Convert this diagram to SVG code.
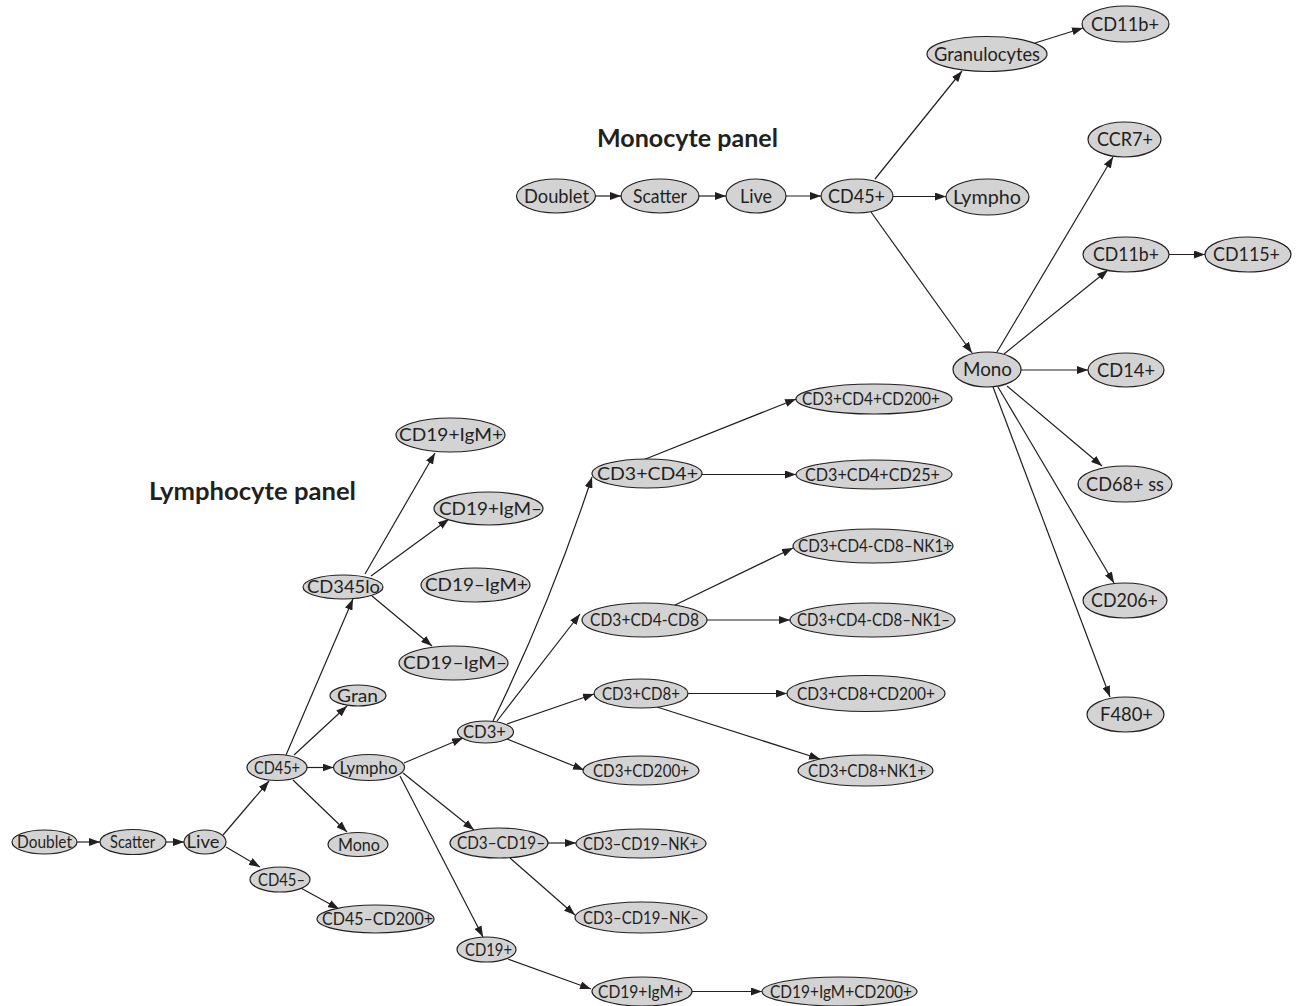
<svg xmlns="http://www.w3.org/2000/svg" width="1296" height="1006" viewBox="0 0 1296 1006">
<style>
  .bg { fill: #ffffff; }
  ellipse { fill: #d3d3d4; stroke: #231f20; stroke-width: 1.2; }
  text { font-family: Lato, "Liberation Sans", sans-serif; fill: #231f20; text-anchor: middle; }
  .m text { font-size: 19px; }
  .l text { font-size: 16.5px; }
  .title { font-size: 24px; font-weight: bold; }
  #connectors line, #connectors path { stroke: #231f20; stroke-width: 1.2; fill: none; marker-end: url(#ah); }
</style>
<defs>
  <marker id="ah" markerWidth="11" markerHeight="8" refX="11" refY="4" orient="auto" markerUnits="userSpaceOnUse">
    <path d="M0,0 L11,4 L0,8 z" fill="#231f20"/>
  </marker>
</defs>
<rect class="bg" x="0" y="0" width="1296" height="1006"/>

<text class="title" x="687.5" y="147" textLength="181" lengthAdjust="spacingAndGlyphs">Monocyte panel</text>
<text class="title" x="252.5" y="500" textLength="207" lengthAdjust="spacingAndGlyphs">Lymphocyte panel</text>

<g id="connectors">
  <!-- monocyte panel -->
  <line x1="595.5" y1="196" x2="621" y2="196"/>
  <line x1="699" y1="196" x2="726" y2="196"/>
  <line x1="786" y1="196" x2="821" y2="196"/>
  <line x1="875" y1="179" x2="962" y2="71"/>
  <line x1="893" y1="196.5" x2="946" y2="196.5"/>
  <line x1="871" y1="212" x2="972" y2="353"/>
  <line x1="1035" y1="43" x2="1083" y2="28"/>
  <line x1="997" y1="352" x2="1113" y2="157"/>
  <line x1="1004" y1="354" x2="1108" y2="270"/>
  <line x1="1169" y1="254.5" x2="1205" y2="254.5"/>
  <line x1="1021" y1="370" x2="1088" y2="370"/>
  <line x1="1007" y1="386" x2="1102" y2="466"/>
  <line x1="998" y1="387" x2="1114" y2="583"/>
  <line x1="993" y1="387" x2="1110" y2="697"/>
  <!-- lymphocyte panel -->
  <line x1="77" y1="842" x2="100" y2="842"/>
  <line x1="166" y1="842" x2="184" y2="842"/>
  <line x1="223" y1="835" x2="269" y2="781"/>
  <line x1="226" y1="847" x2="260" y2="867"/>
  <line x1="299" y1="887" x2="339" y2="909"/>
  <line x1="286" y1="755" x2="353" y2="599"/>
  <line x1="294" y1="755" x2="347" y2="706"/>
  <line x1="307" y1="767.5" x2="333.5" y2="767.5"/>
  <line x1="293" y1="780" x2="347" y2="832"/>
  <line x1="365" y1="574" x2="435" y2="453"/>
  <line x1="371" y1="576" x2="449" y2="519"/>
  <line x1="372" y1="596" x2="432" y2="646"/>
  <line x1="404" y1="763" x2="463" y2="738"/>
  <line x1="403" y1="773" x2="474" y2="830"/>
  <line x1="400" y1="776" x2="483" y2="937"/>
  <path d="M493,721 Q551.5,601 592,477"/>
  <line x1="497" y1="721" x2="580" y2="614"/>
  <line x1="507" y1="724" x2="594" y2="694"/>
  <line x1="507" y1="739" x2="584" y2="770"/>
  <line x1="643" y1="460" x2="796" y2="399"/>
  <line x1="702" y1="474.5" x2="796" y2="474.5"/>
  <line x1="673" y1="606" x2="793" y2="548"/>
  <line x1="707" y1="620" x2="790" y2="620"/>
  <line x1="688" y1="693.5" x2="787" y2="693.5"/>
  <line x1="657" y1="707" x2="820" y2="759"/>
  <line x1="548" y1="843" x2="576" y2="843"/>
  <line x1="510" y1="858" x2="575" y2="915"/>
  <line x1="508" y1="959" x2="591" y2="989"/>
  <line x1="692" y1="991.5" x2="762" y2="991.5"/>
</g>

<!-- Monocyte panel nodes -->
<g class="m">
  <g id="m-doublet"><ellipse cx="556" cy="196" rx="39.5" ry="17"/><text x="556.5" y="202.5" textLength="65" lengthAdjust="spacingAndGlyphs">Doublet</text></g>
  <g id="m-scatter"><ellipse cx="660" cy="196" rx="39" ry="17"/><text x="660" y="202.5" textLength="54" lengthAdjust="spacingAndGlyphs">Scatter</text></g>
  <g id="m-live"><ellipse cx="756" cy="196" rx="30" ry="17"/><text x="756" y="202.5" textLength="32" lengthAdjust="spacingAndGlyphs">Live</text></g>
  <g id="m-cd45p"><ellipse cx="857" cy="196" rx="36" ry="17"/><text x="856.5" y="202.5" textLength="57" lengthAdjust="spacingAndGlyphs">CD45+</text></g>
  <g id="m-granulocytes"><ellipse cx="987" cy="54" rx="60" ry="17.5"/><text x="987" y="60.5" textLength="106" lengthAdjust="spacingAndGlyphs">Granulocytes</text></g>
  <g id="m-gran-cd11b"><ellipse cx="1125.5" cy="24" rx="43.5" ry="18"/><text x="1125" y="30.5" textLength="68" lengthAdjust="spacingAndGlyphs">CD11b+</text></g>
  <g id="m-ccr7"><ellipse cx="1124.5" cy="139.5" rx="36.5" ry="17.5"/><text x="1125" y="146" textLength="56" lengthAdjust="spacingAndGlyphs">CCR7+</text></g>
  <g id="m-lympho"><ellipse cx="987.5" cy="197" rx="41.5" ry="18"/><text x="987" y="203.5" textLength="68" lengthAdjust="spacingAndGlyphs">Lympho</text></g>
  <g id="m-cd11b"><ellipse cx="1126" cy="254.5" rx="43" ry="17.5"/><text x="1126" y="261" textLength="66" lengthAdjust="spacingAndGlyphs">CD11b+</text></g>
  <g id="m-cd115"><ellipse cx="1248" cy="254.5" rx="43" ry="17.5"/><text x="1246.5" y="261" textLength="67" lengthAdjust="spacingAndGlyphs">CD115+</text></g>
  <g id="m-mono"><ellipse cx="987" cy="369.5" rx="34" ry="17.5"/><text x="987.5" y="376" textLength="49" lengthAdjust="spacingAndGlyphs">Mono</text></g>
  <g id="m-cd14"><ellipse cx="1126" cy="370" rx="38" ry="17"/><text x="1126" y="376.5" textLength="58" lengthAdjust="spacingAndGlyphs">CD14+</text></g>
  <g id="m-cd68"><ellipse cx="1125" cy="484" rx="47" ry="18"/><text x="1125" y="490.5" textLength="78" lengthAdjust="spacingAndGlyphs">CD68+ ss</text></g>
  <g id="m-cd206"><ellipse cx="1125" cy="600.5" rx="42" ry="17.5"/><text x="1124.5" y="607" textLength="67" lengthAdjust="spacingAndGlyphs">CD206+</text></g>
  <g id="m-f480"><ellipse cx="1125.5" cy="714.5" rx="38.5" ry="17.5"/><text x="1126.5" y="721" textLength="53" lengthAdjust="spacingAndGlyphs">F480+</text></g>
</g>

<!-- Lymphocyte panel nodes -->
<g class="l">
  <g id="l-doublet"><ellipse cx="44.5" cy="842" rx="32.5" ry="12"/><text x="44.5" y="847.5" textLength="55" lengthAdjust="spacingAndGlyphs">Doublet</text></g>
  <g id="l-scatter"><ellipse cx="133" cy="842" rx="33" ry="12.5"/><text x="132.5" y="847.5" textLength="45" lengthAdjust="spacingAndGlyphs">Scatter</text></g>
  <g id="l-live"><ellipse cx="205" cy="842" rx="21" ry="12"/><text x="203" y="847.5" textLength="33" lengthAdjust="spacingAndGlyphs">Live</text></g>
  <g id="l-cd45p"><ellipse cx="277" cy="767.5" rx="30" ry="13"/><text x="277" y="773.5" textLength="46" lengthAdjust="spacingAndGlyphs">CD45+</text></g>
  <g id="l-lympho"><ellipse cx="369" cy="767.5" rx="35.5" ry="13"/><text x="368.5" y="773.5" textLength="58" lengthAdjust="spacingAndGlyphs">Lympho</text></g>
  <g id="l-mono"><ellipse cx="358" cy="844.5" rx="30" ry="12"/><text x="359" y="850.5" textLength="42" lengthAdjust="spacingAndGlyphs">Mono</text></g>
  <g id="l-cd45m"><ellipse cx="280" cy="879.5" rx="30" ry="12.5"/><text x="281.5" y="885.5" textLength="47" lengthAdjust="spacingAndGlyphs">CD45–</text></g>
  <g id="l-cd45m-cd200p"><ellipse cx="375.5" cy="919" rx="58.5" ry="14"/><text x="377.5" y="925" textLength="111" lengthAdjust="spacingAndGlyphs">CD45–CD200+</text></g>
  <g id="l-gran"><ellipse cx="358" cy="695.5" rx="28" ry="10.5"/><text x="357.5" y="701.5" textLength="41" lengthAdjust="spacingAndGlyphs">Gran</text></g>
  <g id="l-cd345lo"><ellipse cx="343" cy="587" rx="40" ry="12"/><text x="343.5" y="593" textLength="73" lengthAdjust="spacingAndGlyphs">CD345lo</text></g>
  <g id="l-cd19p-igmp"><ellipse cx="450.5" cy="435" rx="54.5" ry="17"/><text x="451" y="441" textLength="104" lengthAdjust="spacingAndGlyphs">CD19+IgM+</text></g>
  <g id="l-cd19p-igmm"><ellipse cx="488.5" cy="508.5" rx="54.5" ry="16.5"/><text x="490.5" y="514.5" textLength="103" lengthAdjust="spacingAndGlyphs">CD19+IgM–</text></g>
  <g id="l-cd19m-igmp"><ellipse cx="475.5" cy="585" rx="54.5" ry="17"/><text x="476.5" y="591" textLength="103" lengthAdjust="spacingAndGlyphs">CD19–IgM+</text></g>
  <g id="l-cd19m-igmm"><ellipse cx="453.5" cy="663" rx="54.5" ry="17"/><text x="455" y="669" textLength="104" lengthAdjust="spacingAndGlyphs">CD19–IgM–</text></g>
  <g id="l-cd3p"><ellipse cx="485.5" cy="732" rx="28" ry="11"/><text x="484.5" y="738" textLength="43" lengthAdjust="spacingAndGlyphs">CD3+</text></g>
  <g id="l-cd3p-cd4p"><ellipse cx="647" cy="473.5" rx="55" ry="14.5"/><text x="647.5" y="479.5" textLength="101" lengthAdjust="spacingAndGlyphs">CD3+CD4+</text></g>
  <g id="l-cd3p-cd4p-cd200p"><ellipse cx="874" cy="399" rx="78" ry="15"/><text x="871" y="405" textLength="138" lengthAdjust="spacingAndGlyphs">CD3+CD4+CD200+</text></g>
  <g id="l-cd3p-cd4p-cd25p"><ellipse cx="874" cy="474.5" rx="78" ry="14.5"/><text x="872.5" y="480.5" textLength="135" lengthAdjust="spacingAndGlyphs">CD3+CD4+CD25+</text></g>
  <g id="l-cd3p-cd4-cd8-nk1p"><ellipse cx="873" cy="546" rx="80" ry="17"/><text x="875" y="552" textLength="154" lengthAdjust="spacingAndGlyphs">CD3+CD4-CD8–NK1+</text></g>
  <g id="l-cd3p-cd4-cd8"><ellipse cx="644.5" cy="620" rx="62.5" ry="17"/><text x="644.5" y="626" textLength="109" lengthAdjust="spacingAndGlyphs">CD3+CD4-CD8</text></g>
  <g id="l-cd3p-cd4-cd8-nk1m"><ellipse cx="872.5" cy="620" rx="82.5" ry="17"/><text x="873.5" y="626" textLength="153" lengthAdjust="spacingAndGlyphs">CD3+CD4-CD8–NK1–</text></g>
  <g id="l-cd3p-cd8p"><ellipse cx="641" cy="693.5" rx="47" ry="14.5"/><text x="641" y="699.5" textLength="78" lengthAdjust="spacingAndGlyphs">CD3+CD8+</text></g>
  <g id="l-cd3p-cd8p-cd200p"><ellipse cx="866" cy="693.5" rx="79" ry="18"/><text x="866" y="699.5" textLength="138" lengthAdjust="spacingAndGlyphs">CD3+CD8+CD200+</text></g>
  <g id="l-cd3p-cd200p"><ellipse cx="641" cy="770.5" rx="58" ry="14.5"/><text x="641" y="776.5" textLength="96" lengthAdjust="spacingAndGlyphs">CD3+CD200+</text></g>
  <g id="l-cd3p-cd8p-nk1p"><ellipse cx="865.5" cy="770.5" rx="67.5" ry="15.5"/><text x="867" y="776.5" textLength="118" lengthAdjust="spacingAndGlyphs">CD3+CD8+NK1+</text></g>
  <g id="l-cd3m-cd19m"><ellipse cx="499" cy="843" rx="49" ry="15"/><text x="501" y="849" textLength="88" lengthAdjust="spacingAndGlyphs">CD3–CD19–</text></g>
  <g id="l-cd3m-cd19m-nkp"><ellipse cx="641" cy="843.5" rx="65" ry="14.5"/><text x="640.5" y="849.5" textLength="115" lengthAdjust="spacingAndGlyphs">CD3–CD19–NK+</text></g>
  <g id="l-cd3m-cd19m-nkm"><ellipse cx="641" cy="917.5" rx="66" ry="15.5"/><text x="641" y="923.5" textLength="116" lengthAdjust="spacingAndGlyphs">CD3–CD19–NK–</text></g>
  <g id="l-cd19p"><ellipse cx="486.5" cy="949.5" rx="29.5" ry="12.5"/><text x="488.5" y="955.5" textLength="47" lengthAdjust="spacingAndGlyphs">CD19+</text></g>
  <g id="l-cd19p-igmp2"><ellipse cx="642" cy="991.5" rx="50" ry="14.5"/><text x="640.5" y="997.5" textLength="85" lengthAdjust="spacingAndGlyphs">CD19+IgM+</text></g>
  <g id="l-cd19p-igmp-cd200p"><ellipse cx="839.5" cy="991.5" rx="77.5" ry="14.5"/><text x="841" y="997.5" textLength="142" lengthAdjust="spacingAndGlyphs">CD19+IgM+CD200+</text></g>
</g>
</svg>
